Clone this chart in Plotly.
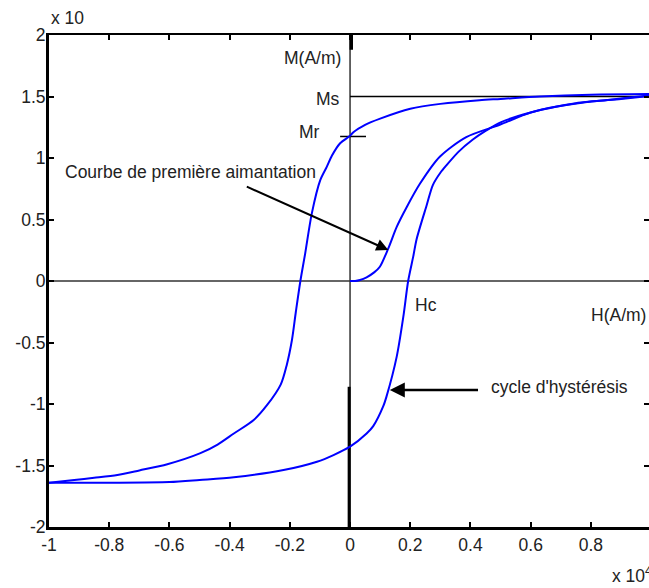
import plotly.graph_objects as go

# ---- data (H in units of 1e4 A/m, M in units of 1e? A/m) ----
desc_H = [1.0, 0.8, 0.63, 0.5, 0.43, 0.3, 0.2, 0.1, 0.05, 0.011, 0.0, -0.033, -0.06, -0.077,
          -0.099, -0.127, -0.149, -0.165, -0.18, -0.193, -0.21, -0.23, -0.276, -0.32,
          -0.386, -0.44, -0.497, -0.607, -0.7, -0.773, -0.85, -0.916, -1.0]
desc_M = [1.52, 1.515, 1.5, 1.48, 1.47, 1.44, 1.40, 1.32, 1.27, 1.21, 1.18, 1.12, 1.02, 0.93,
          0.82, 0.55, 0.225, 0.0, -0.25, -0.48, -0.68, -0.84, -1.01, -1.13,
          -1.24, -1.33, -1.40, -1.49, -1.54, -1.577, -1.60, -1.618, -1.64]

asc_H = [-1.0, -0.8, -0.6, -0.5, -0.386, -0.221, -0.11, -0.055, 0.0, 0.055, 0.077, 0.11,
         0.121, 0.155, 0.177, 0.193, 0.21, 0.221, 0.255, 0.275, 0.3, 0.32, 0.36, 0.408,
         0.45, 0.5, 0.6, 0.684, 0.77, 0.85, 0.92, 1.0]
asc_M = [-1.64, -1.64, -1.635, -1.618, -1.596, -1.537, -1.469, -1.415, -1.347, -1.24, -1.18, -1.02,
         -0.94, -0.615, -0.29, 0.0, 0.2, 0.34, 0.62, 0.78, 0.88, 0.94, 1.05, 1.15,
         1.22, 1.29, 1.37, 1.417, 1.45, 1.47, 1.49, 1.51]

first_H = [0.0, 0.017, 0.033, 0.055, 0.08, 0.099, 0.127, 0.155, 0.188, 0.232, 0.298,
           0.386, 0.497, 0.6, 0.75, 0.9, 1.0]
first_M = [0.0, 0.0, 0.008, 0.03, 0.07, 0.116, 0.265, 0.44, 0.60, 0.79, 1.01,
           1.17, 1.27, 1.37, 1.445, 1.48, 1.505]

x_ticks = [-1, -0.8, -0.6, -0.4, -0.2, 0, 0.2, 0.4, 0.6, 0.8]
x_tick_labels = ["-1", "-0.8", "-0.6", "-0.4", "-0.2", "0", "0.2", "0.4", "0.6", "0.8"]
y_ticks = [-2, -1.5, -1, -0.5, 0, 0.5, 1, 1.5, 2]
y_tick_labels = ["-2", "-1.5", "-1", "-0.5", "0", "0.5", "1", "1.5", "2"]

Ms_value = 1.5
Mr_value = 1.175

X_RANGE = [-1, 0.993]
Y_RANGE = [-2, 2]

FONT = "Liberation Sans, Arial, sans-serif"
TXT = "#222222"
BLUE = "#0000ff"
FS = 17.5

fig = go.Figure()

# reference lines
fig.add_trace(go.Scatter(x=[-1, 1], y=[0, 0], mode="lines",
                         line=dict(color="#333333", width=1.5), hoverinfo="skip", showlegend=False))
fig.add_trace(go.Scatter(x=[0, 0], y=[-2, 2], mode="lines",
                         line=dict(color="#333333", width=1.5), hoverinfo="skip", showlegend=False))
fig.add_trace(go.Scatter(x=[-0.003, -0.003], y=[-2, -0.86], mode="lines",
                         line=dict(color="black", width=3), hoverinfo="skip", showlegend=False))
fig.add_trace(go.Scatter(x=[0.004, 0.004], y=[2, 1.88], mode="lines",
                         line=dict(color="black", width=3.5), hoverinfo="skip", showlegend=False))
fig.add_trace(go.Scatter(x=[0, 1], y=[Ms_value, Ms_value], mode="lines",
                         line=dict(color="black", width=1.5), hoverinfo="skip", showlegend=False))
fig.add_trace(go.Scatter(x=[-0.033, 0.053], y=[Mr_value, Mr_value], mode="lines",
                         line=dict(color="black", width=1.5), hoverinfo="skip", showlegend=False))

# curves
for hx, my in [(desc_H, desc_M), (asc_H, asc_M), (first_H, first_M)]:
    fig.add_trace(go.Scatter(x=hx, y=my, mode="lines",
                             line=dict(color=BLUE, width=2, shape="spline", smoothing=0.8),
                             hoverinfo="skip", showlegend=False))

# dummy trace for mirror axes
fig.add_trace(go.Scatter(x=[None], y=[None], xaxis="x2", yaxis="y2",
                         hoverinfo="skip", showlegend=False))

f = dict(family=FONT, size=FS, color=TXT)
ann = [
    dict(x=-0.025, y=1.81, text="M(A/m)", xanchor="right", yanchor="middle"),
    dict(x=-0.028, y=1.48, text="Ms", xanchor="right", yanchor="middle"),
    dict(x=-0.094, y=1.21, text="Mr", xanchor="right", yanchor="middle"),
    dict(x=-0.955, y=0.89, text="Courbe de première aimantation", xanchor="left", yanchor="middle"),
    dict(x=0.21, y=-0.195, text="Hc", xanchor="left", yanchor="middle"),
    dict(x=0.99, y=-0.276, text="H(A/m)", xanchor="right", yanchor="middle"),
    dict(x=0.462, y=-0.86, text="cycle d'hystérésis", xanchor="left", yanchor="middle"),
]
for a in ann:
    fig.add_annotation(xref="x", yref="y", showarrow=False, font=f, **a)

# exponent labels (outside the plot area)
fig.add_annotation(xref="paper", yref="paper", x=0.0, y=1.0346, text="x 10",
                   xanchor="left", yanchor="middle", showarrow=False, font=f)
fig.add_annotation(xref="paper", yref="paper", x=0.935, y=-0.124, text="x 10<sup>4</sup>",
                   xanchor="left", yanchor="bottom", showarrow=False, font=f)

# arrows
fig.add_annotation(xref="x", yref="y", axref="x", ayref="y", x=0.127, y=0.252, ax=-0.348, ay=0.772,
                   text="", showarrow=True, arrowhead=2, arrowsize=1.2, arrowwidth=2,
                   arrowcolor="black", standoff=0)
fig.add_annotation(xref="x", yref="y", axref="x", ayref="y", x=0.132, y=-0.886, ax=0.43, ay=-0.886,
                   text="", showarrow=True, arrowhead=2, arrowsize=1.2, arrowwidth=2.5,
                   arrowcolor="black", standoff=0)

axis_common = dict(showgrid=False, zeroline=False, ticks="inside", ticklen=5, tickwidth=2,
                   tickcolor="black", showline=True, linecolor="black")
tickfont = dict(family=FONT, size=FS, color=TXT)

fig.update_layout(
    width=649, height=588,
    margin=dict(l=49, r=0, t=35, b=61),
    paper_bgcolor="white", plot_bgcolor="white",
    showlegend=False,
    xaxis=dict(range=X_RANGE, tickvals=x_ticks, ticktext=x_tick_labels, linewidth=3,
               tickfont=tickfont, **axis_common),
    yaxis=dict(range=Y_RANGE, tickvals=y_ticks, ticktext=y_tick_labels, linewidth=3,
               tickfont=tickfont, **axis_common),
    xaxis2=dict(range=X_RANGE, tickvals=x_ticks, overlaying="x", side="top", showticklabels=False,
                linewidth=1.5, **axis_common),
    yaxis2=dict(range=Y_RANGE, tickvals=y_ticks, overlaying="y", side="right", showticklabels=False,
                linewidth=1.5, **axis_common),
)
try:
    fig.layout.yaxis.ticklabelstandoff = -3
except Exception:
    pass

fig.write_html(
    "out.html",
    config={"displayModeBar": False},
    post_script="document.body.style.margin='0';document.body.style.overflow='hidden';",
)
